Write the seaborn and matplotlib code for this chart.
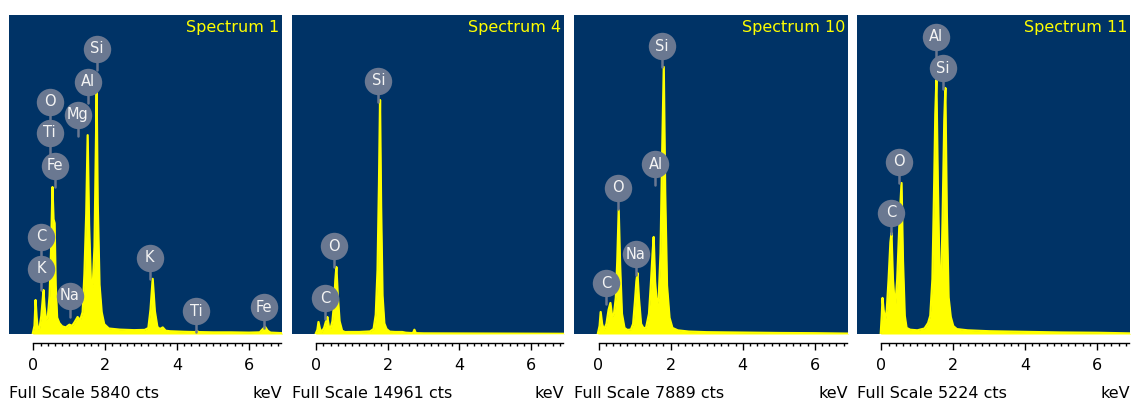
import matplotlib
matplotlib.use('Agg')
import matplotlib.pyplot as plt
import seaborn as sns
from matplotlib.ticker import FixedLocator

# spectrum outlines: energy (keV) and counts
energy_1 = [-0.02, 0.03, 0.06, 0.09, 0.12, 0.17, 0.22, 0.26, 0.28, 0.31, 0.35, 0.40, 0.45, 0.49, 0.53, 0.56,
            0.59, 0.62, 0.66, 0.72, 0.80, 0.90, 1.00, 1.08, 1.15, 1.23, 1.30, 1.37, 1.42, 1.47, 1.51, 1.55,
            1.60, 1.65, 1.70, 1.73, 1.76, 1.79, 1.84, 1.90, 1.97, 2.10, 2.40, 2.80, 3.10, 3.20, 3.26, 3.32,
            3.38, 3.45, 3.52, 3.60, 3.68, 3.80, 4.20, 4.50, 4.55, 4.60, 5.00, 5.50, 6.00, 6.30, 6.40, 6.45,
            6.52, 6.60, 6.93]
counts_1 = [0, 150, 622, 300, 90, 110, 330, 640, 805, 500, 260, 300, 700, 1500, 2690, 2100,
            2030, 900, 300, 200, 140, 120, 170, 150, 220, 311, 250, 400, 1100, 2200, 3640, 2000,
            950, 850, 1600, 3000, 4430, 2400, 900, 400, 180, 100, 80, 70, 75, 110, 450, 1010,
            420, 130, 90, 120, 60, 50, 40, 35, 55, 35, 30, 30, 25, 30, 100, 130,
            60, 25, 15]

energy_2 = [-0.02, 0.03, 0.06, 0.10, 0.15, 0.22, 0.27, 0.31, 0.35, 0.40, 0.45, 0.50, 0.53, 0.56,
            0.60, 0.65, 0.72, 0.80, 0.90, 1.20, 1.50, 1.60, 1.66, 1.71, 1.75, 1.78, 1.81, 1.85,
            1.90, 1.96, 2.05, 2.20, 2.40, 2.50, 2.70, 2.74, 2.78, 3.00, 4.00, 5.00, 6.00, 6.93]
counts_2 = [0, 200, 563, 250, 90, 300, 600, 797, 350, 281, 600, 1500, 2500, 3142,
            1800, 600, 150, 90, 94, 94, 120, 234, 900, 3000, 7000, 10975, 6000, 1800,
            500, 234, 110, 94, 94, 60, 40, 200, 40, 30, 25, 20, 15, 10]

energy_3 = [-0.02, 0.03, 0.06, 0.10, 0.15, 0.22, 0.28, 0.33, 0.38, 0.43, 0.48, 0.52, 0.56, 0.60,
            0.65, 0.72, 0.80, 0.90, 0.96, 1.01, 1.05, 1.08, 1.12, 1.18, 1.25, 1.32, 1.40, 1.45,
            1.50, 1.53, 1.57, 1.62, 1.67, 1.72, 1.76, 1.81, 1.85, 1.90, 1.97, 2.05, 2.20, 2.50,
            3.00, 4.00, 5.00, 6.00, 6.93]
counts_3 = [0, 200, 544, 250, 100, 250, 600, 767, 420, 500, 900, 1800, 3066, 1700,
            500, 150, 100, 110, 250, 800, 1300, 1508, 900, 250, 140, 160, 500, 1200,
            2000, 2399, 1300, 700, 900, 2000, 4200, 6603, 3500, 1200, 400, 150, 90, 60,
            45, 35, 25, 20, 10]

energy_4 = [-0.02, 0.01, 0.03, 0.06, 0.10, 0.15, 0.20, 0.25, 0.28, 0.32, 0.38, 0.44, 0.50, 0.56,
            0.60, 0.65, 0.70, 0.80, 1.00, 1.20, 1.30, 1.36, 1.42, 1.47, 1.50, 1.53, 1.57, 1.62,
            1.66, 1.70, 1.75, 1.78, 1.82, 1.87, 1.93, 2.00, 2.10, 2.40, 3.00, 4.00, 5.00, 6.00, 6.93]
counts_4 = [0, 300, 590, 400, 200, 400, 900, 1500, 1654, 900, 400, 900, 1800, 2473,
            1200, 300, 100, 70, 60, 90, 180, 300, 900, 2500, 3600, 4160, 2500, 900,
            700, 1800, 3500, 4029, 2000, 600, 280, 130, 80, 60, 45, 35, 25, 20, 10]

titles = ['Spectrum 1', 'Spectrum 4', 'Spectrum 10', 'Spectrum 11']
full_scale = [5840, 14961, 7889, 5224]

# element markers: name, keV, counts where the bubble sits
names_1 = ['Si', 'Al', 'O', 'Mg', 'Ti', 'Fe', 'C', 'K', 'Na', 'K', 'Ti', 'Fe']
kev_1 = [1.76, 1.51, 0.47, 1.23, 0.45, 0.59, 0.22, 0.22, 1.01, 3.24, 4.53, 6.42]
cts_1 = [5218, 4614, 4248, 4010, 3680, 3076, 1776, 1190, 696, 1392, 421, 494]

names_2 = ['Si', 'O', 'C']
kev_2 = [1.73, 0.50, 0.25]
cts_2 = [11866, 4127, 1688]

names_3 = ['Si', 'Al', 'O', 'Na', 'C']
kev_3 = [1.75, 1.58, 0.53, 1.03, 0.22]
cts_3 = [7122, 4204, 3611, 1978, 1261]

names_4 = ['Al', 'Si', 'O', 'C']
kev_4 = [1.53, 1.72, 0.50, 0.28]
cts_4 = [4864, 4356, 2817, 1982]

spectra = [(energy_1, counts_1), (energy_2, counts_2), (energy_3, counts_3), (energy_4, counts_4)]
markers = [(names_1, kev_1, cts_1), (names_2, kev_2, cts_2), (names_3, kev_3, cts_3), (names_4, kev_4, cts_4)]

sns.set_theme(style='ticks')
plt.rcParams['font.family'] = ['DejaVu Sans']
plt.rcParams['text.color'] = 'black'
plt.rcParams['xtick.color'] = 'black'
plt.rcParams['xtick.labelcolor'] = 'black'

W, H = 1135, 405
fig = plt.figure(figsize=(W / 100, H / 100), dpi=100)
fig.patch.set_facecolor('white')

lefts = [9, 292, 574, 857]
rights = [282, 564, 848, 1130]
top_px, bottom_px = 15, 334
blue = '#003366'
yellow = '#ffff00'
bubble = '#6a7891'

for i in range(4):
    l, r = lefts[i], rights[i]
    ax = fig.add_axes([l / W, (H - bottom_px) / H, (r - l) / W, (bottom_px - top_px) / H])
    ax.set_facecolor(blue)
    e, c = spectra[i]
    fs = full_scale[i]
    ax.fill_between(e, 0, c, color=yellow, lw=0)
    sns.lineplot(x=e, y=c, ax=ax, color=yellow, lw=1.6)
    ax.set_xlim(-0.68, 6.92)
    ax.set_ylim(0, fs)

    # element bubbles with a short stem
    stem = 21 * fs / (bottom_px - top_px)
    for name, kx, ky in zip(*markers[i]):
        ax.plot([kx, kx], [ky, ky - stem], color=bubble, lw=1.8, zorder=4)
        ax.scatter([kx], [ky], s=390, color=bubble, zorder=5, lw=0)
        ax.text(kx, ky, name, ha='center', va='center', color='#f4f4f4', fontsize=10.5, zorder=6)

    ax.text(0.99, 0.985, titles[i], transform=ax.transAxes, ha='right', va='top',
            color=yellow, fontsize=11.5)

    for s in ['left', 'right', 'top']:
        ax.spines[s].set_visible(False)
    ax.spines['bottom'].set_position(('outward', 6.5))
    ax.spines['bottom'].set_bounds(0, 6.9)
    ax.spines['bottom'].set_color('black')
    ax.spines['bottom'].set_linewidth(1)
    ax.set_yticks([])
    ax.set_xticks([0, 2, 4, 6])
    ax.set_xticklabels(['0', '2', '4', '6'])
    ax.xaxis.set_minor_locator(FixedLocator([k * 0.2 for k in range(35)]))
    ax.tick_params(axis='x', which='major', direction='out', length=5, width=1, color='black',
                   labelsize=11.5, labelcolor='black', pad=5.5, bottom=True)
    ax.tick_params(axis='x', which='minor', direction='out', length=2.5, width=1, color='black',
                   bottom=True)
    ax.set_xlabel('')
    ax.set_ylabel('')

    fig.text(l / W, (H - 393) / H, 'Full Scale %d cts' % fs, ha='left', va='center',
             fontsize=11.5, color='black')
    fig.text(r / W, (H - 393) / H, 'keV', ha='right', va='center', fontsize=11.5, color='black')

fig.savefig('out.png', dpi=100, facecolor='white')
